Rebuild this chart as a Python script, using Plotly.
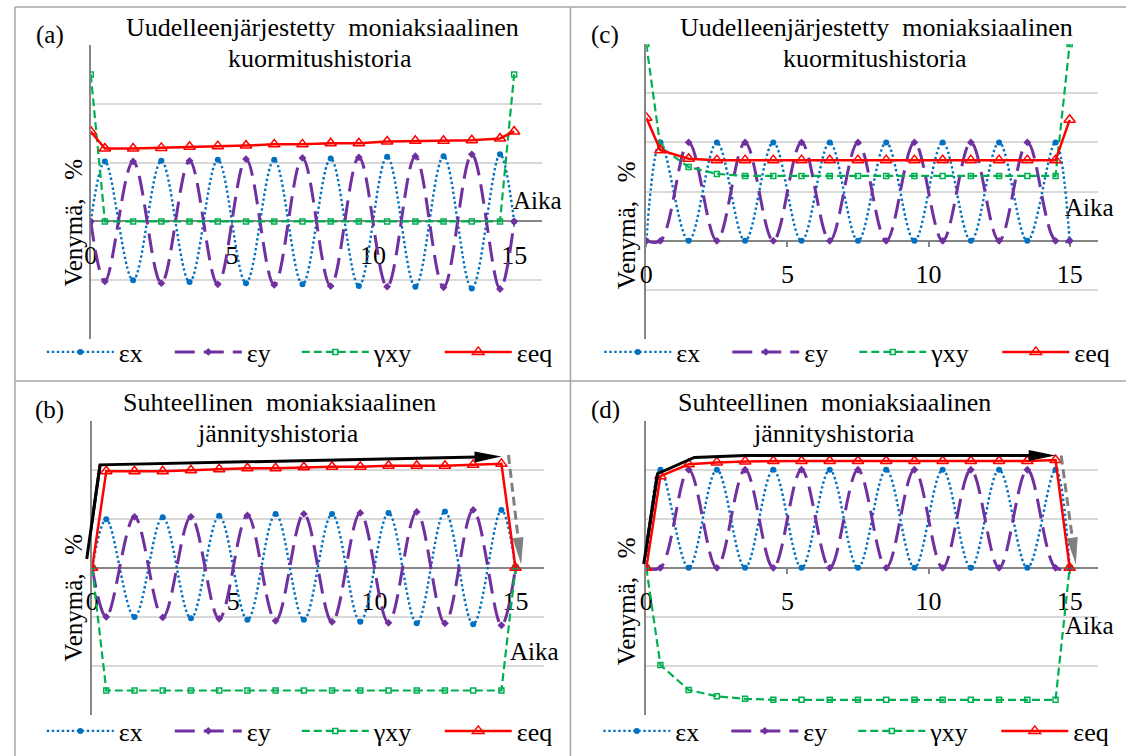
import math
import plotly.graph_objects as go

W, H = 1126, 756
FONT = "Liberation Serif, Times New Roman, serif"
AXIS_GREY = "#868686"
GRID_GREY = "#D9D9D9"
BORDER_GREY = "#A6A6A6"

# ---------------- data ----------------
time = [0, 0.5, 1.5, 2.5, 3.5, 4.5, 5.5, 6.5, 7.5, 8.5, 9.5, 10.5, 11.5, 12.5, 13.5, 14.5, 15]

# (a) reordered multiaxial load history
ex_a = [0, 1.02, -1.00, 1.03, -1.03, 1.05, -1.05, 1.05, -1.07, 1.07, -1.10, 1.10, -1.11, 1.11, -1.14, 1.14, 0]
ey_a = [0, -1.02, 1.02, -1.05, 1.03, -1.07, 1.06, -1.08, 1.08, -1.10, 1.09, -1.11, 1.11, -1.12, 1.14, -1.15, 0]
gxy_a = [2.5, 0, 0, 0, 0, 0, 0, 0, 0, 0, 0, 0, 0, 0, 0, 0, 2.5]
eeq_a = [1.53, 1.24, 1.24, 1.25, 1.27, 1.28, 1.29, 1.31, 1.31, 1.33, 1.33, 1.36, 1.37, 1.37, 1.38, 1.41, 1.53]

# (b) proportional multiaxial stress history
ex_b = [0, 0.99, -1.00, 1.03, -1.03, 1.06, -1.06, 1.10, -1.06, 1.10, -1.10, 1.12, -1.13, 1.15, -1.15, 1.18, 0]
ey_b = [0, -1.00, 1.04, -1.01, 1.04, -1.04, 1.07, -1.08, 1.10, -1.10, 1.12, -1.12, 1.14, -1.13, 1.18, -1.17, 0]
gxy_b = [0, -2.5, -2.5, -2.5, -2.5, -2.5, -2.5, -2.5, -2.5, -2.5, -2.5, -2.5, -2.5, -2.5, -2.5, -2.5, 0]
eeq_b = [0, 1.97, 1.97, 1.97, 1.99, 2.01, 2.03, 2.03, 2.05, 2.06, 2.06, 2.08, 2.08, 2.08, 2.10, 2.12, 0]

# (c) reordered multiaxial load history
ex_c = [0, 2, 0, 2, 0, 2, 0, 2, 0, 2, 0, 2, 0, 2, 0, 2, 0]
ey_c = [0, 0, 2, 0, 2, 0, 2, 0, 2, 0, 2, 0, 2, 0, 2, 0, 0]
gxy_c = [4, 1.91, 1.50, 1.36, 1.32, 1.32, 1.32, 1.32, 1.32, 1.32, 1.32, 1.32, 1.32, 1.32, 1.32, 1.32, 4]
eeq_c = [2.50, 1.84, 1.67, 1.64, 1.64, 1.64, 1.64, 1.64, 1.64, 1.64, 1.64, 1.64, 1.64, 1.64, 1.64, 1.64, 2.46]

# (d) proportional multiaxial stress history
ex_d = [0, 2, 0, 2, 0, 2, 0, 2, 0, 2, 0, 2, 0, 2, 0, 2, 0]
ey_d = [0, 0, 2, 0, 2, 0, 2, 0, 2, 0, 2, 0, 2, 0, 2, 0, 0]
gxy_d = [0, -1.98, -2.49, -2.62, -2.67, -2.69, -2.69, -2.69, -2.69, -2.69, -2.69, -2.69, -2.69, -2.69, -2.69, -2.69, 0]
eeq_d = [0, 1.87, 2.11, 2.15, 2.17, 2.18, 2.18, 2.18, 2.18, 2.18, 2.18, 2.18, 2.18, 2.18, 2.18, 2.20, 0]

# hand-drawn arrows in (b) and (d), in data units
arrow_black_b_x = [-0.2, 0.28, 14.5]
arrow_black_b_y = [0.15, 2.10, 2.27]
arrow_grey_b_x = [14.75, 15.2]
arrow_grey_b_y = [2.30, 0.07]
arrow_black_d_x = [-0.1, 0.4, 1.7, 3.5, 14.5]
arrow_black_d_y = [0.05, 1.92, 2.25, 2.29, 2.29]
arrow_grey_d_x = [14.7, 15.22]
arrow_grey_d_y = [2.29, 0.07]

series_names = ["εx", "εy", "γxy", "εeq"]
x_tick_vals = [0, 5, 10, 15]
x_tick_text = ["0", "5", "10", "15"]
x_range = [0, 16]

title_a = ["Uudelleenjärjestetty\u2002moniaksiaalinen", "kuormitushistoria"]
title_b = ["Suhteellinen\u2002moniaksiaalinen", "jännityshistoria"]
panel_labels = {"a": "(a)", "b": "(b)", "c": "(c)", "d": "(d)"}
y_title = "Venymä,\u2002 %"
x_title = "Aika"

panel_series = {
    "a": [ex_a, ey_a, gxy_a, eeq_a],
    "b": [ex_b, ey_b, gxy_b, eeq_b],
    "c": [ex_c, ey_c, gxy_c, eeq_c],
    "d": [ex_d, ey_d, gxy_d, eeq_d],
}
panel_titles = {"a": title_a, "b": title_b, "c": title_a, "d": title_b}
panel_arrows = {
    "b": ((arrow_black_b_x, arrow_black_b_y), (arrow_grey_b_x, arrow_grey_b_y)),
    "d": ((arrow_black_d_x, arrow_black_d_y), (arrow_grey_d_x, arrow_grey_d_y)),
}

# ---------------- layout geometry (pixels) ----------------
PX_X = 28.4
geom = {
    "a": dict(sfx="", left=84.3, top=45.0, bottom=339.0, yr=[-2, 3],
              title_x=(317, 315), title_y=(28, 58), label=(43, 35),
              ytitle=(66, 223), xtitle=(534, 201), legend=(35, 352)),
    "b": dict(sfx="2", left=85.7, top=420.7, bottom=715.0, yr=[-3, 3],
              title_x=(274, 273), title_y=(403, 433), label=(43, 410),
              ytitle=(66, 598), xtitle=(531, 651), legend=(35, 731)),
    "c": dict(sfx="3", left=643.3, top=44.0, bottom=339.3, yr=[-2, 4],
              title_x=(875, 873), title_y=(28, 58), label=(602, 35),
              ytitle=(623, 225), xtitle=(1089, 207), legend=(596, 352)),
    "d": dict(sfx="4", left=643.3, top=420.7, bottom=715.0, yr=[-3, 3],
              title_x=(833, 832), title_y=(403, 433), label=(602, 410),
              ytitle=(623, 601), xtitle=(1089, 625), legend=(595, 731)),
}

styles = [
    dict(line=dict(color="#0070C0", width=2.4, dash="2.4px,2.6px", shape="spline", smoothing=1),
         marker=dict(symbol="circle", size=6, color="#0070C0"), legendwidth=46),
    dict(line=dict(color="#7030A0", width=3, dash="20px,9px", shape="spline", smoothing=1),
         marker=dict(symbol="diamond", size=6, color="#7030A0"), legendwidth=45),
    dict(line=dict(color="#00B050", width=2.2, dash="8px,4px"),
         marker=dict(symbol="square-open", size=5, color="#00B050",
                     line=dict(width=1.5, color="#00B050")), legendwidth=61),
    dict(line=dict(color="#FF0000", width=2.5),
         marker=dict(symbol="triangle-up-open", size=10, color="#FF0000",
                     line=dict(width=1.5, color="#FF0000")), legendwidth=45),
]


def px2paper(px, py):
    return px / W, 1 - py / H


def arrow_head(xs, ys, sx, sy, length=27, width=11):
    xt, yt = xs[-1], ys[-1]
    xp, yp = xs[-2], ys[-2]
    dx, dy = (xt - xp) * sx, (yt - yp) * sy
    n = math.hypot(dx, dy)
    ux, uy = dx / n, dy / n
    bx, by = -ux * length, -uy * length
    c1 = (bx - uy * width / 2, by + ux * width / 2)
    c2 = (bx + uy * width / 2, by - ux * width / 2)

    def to_data(p):
        return xt + p[0] / sx, yt + p[1] / sy

    p1, p2 = to_data(c1), to_data(c2)
    base = to_data((-ux * (length - 3), -uy * (length - 3)))
    path = f"M {xt},{yt} L {p1[0]},{p1[1]} L {p2[0]},{p2[1]} Z"
    return path, base


fig = go.Figure()
layout_extra = {}
annotations = []
shapes = []

txt_font = dict(family=FONT, size=25, color="black")

for key, g in geom.items():
    sfx = g["sfx"]
    xname, yname = "x" + sfx, "y" + sfx
    legname = "legend" + sfx
    ymin, ymax = g["yr"]
    width_px = (x_range[1] - x_range[0]) * PX_X
    xd = [g["left"] / W, (g["left"] + width_px) / W]
    yd = [1 - g["bottom"] / H, 1 - g["top"] / H]
    zero_px = g["top"] + (ymax - 0) / (ymax - ymin) * (g["bottom"] - g["top"])
    sx = PX_X
    sy = (g["bottom"] - g["top"]) / (ymax - ymin)

    layout_extra["xaxis" + sfx] = dict(
        domain=xd, range=x_range, anchor="free", position=1 - zero_px / H,
        showline=True, linecolor=AXIS_GREY, linewidth=2,
        ticks="outside", ticklen=5, tickwidth=1.5, tickcolor=AXIS_GREY,
        tickmode="array", tickvals=x_tick_vals, ticktext=x_tick_text,
        tickfont=dict(family=FONT, size=26, color="black"), ticklabelstandoff=5,
        showgrid=False, zeroline=False, layer="below traces", fixedrange=True,
    )
    layout_extra["yaxis" + sfx] = dict(
        domain=yd, range=g["yr"], anchor=xname,
        showline=True, linecolor=AXIS_GREY, linewidth=2,
        showgrid=True, gridcolor=GRID_GREY, gridwidth=1.5, dtick=1, tick0=0,
        showticklabels=False, ticks="", zeroline=False, layer="below traces",
        fixedrange=True,
    )
    lx, ly = px2paper(*g["legend"])
    layout_extra[legname] = dict(
        orientation="h", x=lx, y=ly, xanchor="left", yanchor="middle",
        font=dict(family=FONT, size=26, color="black"), itemwidth=67,
        bgcolor="rgba(0,0,0,0)", traceorder="normal",
    )

    for name, vals, st in zip(series_names, panel_series[key], styles):
        fig.add_trace(go.Scatter(
            x=time, y=vals, name=name, mode="lines+markers",
            xaxis=xname, yaxis=yname, legend=legname,
            line=st["line"], marker=st["marker"], legendwidth=st["legendwidth"],
            hoverinfo="skip",
        ))

    if key in panel_arrows:
        (bxs, bys), (gxs, gys) = panel_arrows[key]
        path, base = arrow_head(bxs, bys, sx, sy)
        fig.add_trace(go.Scatter(
            x=bxs[:-1] + [base[0]], y=bys[:-1] + [base[1]], mode="lines",
            line=dict(color="black", width=3), showlegend=False, hoverinfo="skip",
            xaxis=xname, yaxis=yname,
        ))
        annotations.append(dict(
            x=bxs[1], y=bys[1], ax=bxs[0], ay=bys[0], xref=xname, yref=yname,
            axref=xname, ayref=yname, text="", showarrow=True, arrowhead=0,
            arrowwidth=3, arrowcolor="black", standoff=0, startstandoff=0,
        ))
        shapes.append(dict(type="path", path=path, xref=xname, yref=yname,
                           fillcolor="black", line=dict(width=0), layer="above"))
        gpath, gbase = arrow_head(gxs, gys, sx, sy)
        fig.add_trace(go.Scatter(
            x=gxs[:-1] + [gbase[0]], y=gys[:-1] + [gbase[1]], mode="lines",
            line=dict(color="#808080", width=3, dash="9px,5px"), showlegend=False,
            hoverinfo="skip", xaxis=xname, yaxis=yname,
        ))
        shapes.append(dict(type="path", path=gpath, xref=xname, yref=yname,
                           fillcolor="#808080", line=dict(width=0), layer="above"))

    # titles
    for line_txt, tx, ty in zip(panel_titles[key], g["title_x"], g["title_y"]):
        px, py = px2paper(tx, ty)
        annotations.append(dict(x=px, y=py, xref="paper", yref="paper", text=line_txt,
                                showarrow=False, xanchor="center", yanchor="middle",
                                font=dict(family=FONT, size=26, color="black")))
    px, py = px2paper(*g["label"])
    annotations.append(dict(x=px, y=py, xref="paper", yref="paper", text=panel_labels[key],
                            showarrow=False, xanchor="center", yanchor="middle", font=txt_font))
    px, py = px2paper(*g["ytitle"])
    annotations.append(dict(x=px, y=py, xref="paper", yref="paper", text=y_title,
                            showarrow=False, xanchor="center", yanchor="middle",
                            textangle=-90, font=txt_font))
    px, py = px2paper(*g["xtitle"])
    annotations.append(dict(x=px, y=py, xref="paper", yref="paper", text=x_title,
                            showarrow=False, xanchor="center", yanchor="middle", font=txt_font))

# panel frame lines (pixels)
frame_lines = [
    (8, 7, 1126, 7), (8, 7, 8, 756), (567, 7, 567, 756), (8, 381, 1126, 381),
]
for x0, y0, x1, y1 in frame_lines:
    p0 = px2paper(x0, y0)
    p1 = px2paper(x1, y1)
    shapes.append(dict(type="line", xref="paper", yref="paper", x0=p0[0], y0=p0[1],
                       x1=p1[0], y1=p1[1], line=dict(color=BORDER_GREY, width=1.5)))

fig.update_layout(
    width=W, height=H, autosize=False,
    margin=dict(l=0, r=0, t=0, b=0, pad=0),
    paper_bgcolor="white", plot_bgcolor="rgba(0,0,0,0)",
    showlegend=True, annotations=annotations, shapes=shapes,
    font=dict(family=FONT, color="black"),
    **layout_extra,
)

fig.write_html("out.html", config={"displayModeBar": False},
               post_script="document.body.style.margin='0';document.body.style.overflow='hidden';")
